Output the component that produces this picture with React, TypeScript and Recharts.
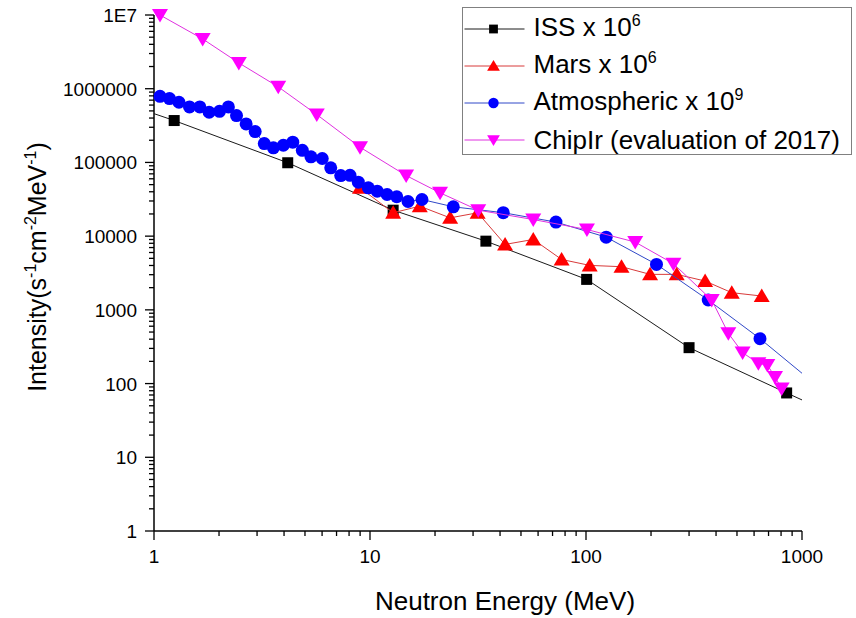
import React from "react";
import { ScatterChart, Scatter, XAxis, YAxis, Legend } from "recharts";

const FONT = "'Liberation Sans', Arial, sans-serif";

// ISS spectrum (x 10^6); first and last points only carry the line
const issEnergy = [1, 1.24, 4.16, 12.8, 34.4, 100.7, 300, 849, 1000];
const issIntensity = [459000, 370000, 99000, 22500, 8550, 2590, 307, 74.6, 60];
const issBare = [0, 8];

// Mars surface spectrum (x 10^6)
const marsEnergy = [8.99, 12.8, 17.0, 23.5, 31.5, 42.2, 57.0, 77.1, 104, 146, 198, 263, 356, 473, 651];
const marsIntensity = [45300, 20750, 25500, 17700, 20750, 7720, 9020, 4830, 4010, 3850, 3030, 3030, 2460, 1710, 1540];

// atmospheric spectrum (x 10^9); last point only carries the line
const atmEnergy = [
  1.066, 1.18, 1.305, 1.46, 1.63, 1.8, 2.01, 2.21, 2.41, 2.67, 2.94, 3.24, 3.57, 3.97, 4.39, 4.86, 5.33, 6.01,
  6.58, 7.32, 8.08, 8.83, 9.82, 10.8, 12.0, 13.3, 15.0, 17.4, 24.3, 41.4, 72.6, 124, 212, 368, 639, 1000,
];
const atmIntensity = [
  789000, 735000, 655000, 566000, 566000, 479000, 494000, 566000, 432000, 333000, 262000, 180000, 158000,
  171000, 188000, 146000, 119000, 113000, 84500, 66400, 66900, 53900, 45300, 40700, 36700, 34200, 29500,
  31400, 25000, 20800, 15500, 9690, 4140, 1360, 407, 138,
];
const atmBare = [35];

// ChipIr beam spectrum (2017 evaluation)
const chipEnergy = [1.066, 1.68, 2.47, 3.76, 5.67, 8.99, 14.7, 21.1, 31.7, 57.0, 101, 169, 254, 382, 456, 531, 628, 691, 750, 805];
const chipIntensity = [
  10000000, 4730000, 2240000, 1060000, 446000, 161000, 66400, 38700, 22500, 16800, 12300, 8300, 4230, 1360,
  481, 263, 188, 179, 123, 85.5,
];

const energyMajor = [1, 10, 100, 1000];
const energyLabels = ["1", "10", "100", "1000"];
const intensityMajor = [1, 10, 100, 1000, 10000, 100000, 1000000, 10000000];
const intensityLabels = ["1", "10", "100", "1000", "10000", "100000", "1000000", "1E7"];

const minorTicks = (major: number[]) =>
  major.slice(0, -1).flatMap((d) => [2, 3, 4, 5, 6, 7, 8, 9].map((m) => m * d));

const energyTicks = [...energyMajor, ...minorTicks(energyMajor)].sort((a, b) => a - b);
const intensityTicks = [...intensityMajor, ...minorTicks(intensityMajor)].sort((a, b) => a - b);

const toRows = (xs: number[], ys: number[], bare: number[] = []) =>
  xs.map((x, i) => ({ x, y: ys[i], bare: bare.includes(i) }));

type Marker = "square" | "up" | "circle" | "down";

const series = [
  { key: "iss", name: "ISS x 10", exp: "6", marker: "square" as Marker, fill: "#000000", line: "#1a1a1a", data: toRows(issEnergy, issIntensity, issBare) },
  { key: "mars", name: "Mars x 10", exp: "6", marker: "up" as Marker, fill: "#ff0000", line: "#d83a3a", data: toRows(marsEnergy, marsIntensity) },
  { key: "atm", name: "Atmospheric x 10", exp: "9", marker: "circle" as Marker, fill: "#0000ff", line: "#3048c8", data: toRows(atmEnergy, atmIntensity, atmBare) },
  { key: "chip", name: "ChipIr (evaluation of 2017)", exp: "", marker: "down" as Marker, fill: "#ff00ff", line: "#e030e0", data: toRows(chipEnergy, chipIntensity) },
];

const drawMarker = (marker: Marker, cx: number, cy: number, fill: string, s = 1) => {
  if (marker === "square") {
    const h = 5.5 * s;
    return <rect x={cx - h} y={cy - h} width={2 * h} height={2 * h} fill={fill} />;
  }
  if (marker === "circle") return <circle cx={cx} cy={cy} r={6.5 * s} fill={fill} />;
  if (marker === "up") {
    return <polygon points={`${cx},${cy - 7.5 * s} ${cx - 8 * s},${cy + 6 * s} ${cx + 8 * s},${cy + 6 * s}`} fill={fill} />;
  }
  return <polygon points={`${cx - 8 * s},${cy - 6 * s} ${cx + 8 * s},${cy - 6 * s} ${cx},${cy + 7.5 * s}`} fill={fill} />;
};

const makeShape = (marker: Marker, fill: string) => (props: any) => {
  const { cx, cy, payload } = props;
  if (payload?.bare || cx == null || cy == null) return <g />;
  return drawMarker(marker, cx, cy, fill);
};

const EnergyTick = (props: any) => {
  const { x, y, payload } = props;
  const i = energyMajor.indexOf(payload.value);
  return (
    <g>
      <line x1={x} x2={x} y1={y} y2={y + (i >= 0 ? 9 : 5)} stroke="#000" strokeWidth={1.3} />
      {i >= 0 && (
        <text x={x} y={y + 32} textAnchor="middle" fontSize={19} fontFamily={FONT} fill="#000">
          {energyLabels[i]}
        </text>
      )}
    </g>
  );
};

const IntensityTick = (props: any) => {
  const { x, y, payload } = props;
  const i = intensityMajor.indexOf(payload.value);
  return (
    <g>
      <line x1={x - (i >= 0 ? 9 : 5)} x2={x} y1={y} y2={y} stroke="#000" strokeWidth={1.3} />
      {i >= 0 && (
        <text x={x - 17} y={y + 7} textAnchor="end" fontSize={19} fontFamily={FONT} fill="#000">
          {intensityLabels[i]}
        </text>
      )}
    </g>
  );
};

const EnergyTitle = (props: any) => {
  const { x, y, width } = props.viewBox;
  return (
    <text x={x + width / 2 + 27} y={y + 79} textAnchor="middle" fontSize={26} fontFamily={FONT} fill="#000">
      Neutron Energy (MeV)
    </text>
  );
};

const IntensityTitle = (props: any) => {
  const { y, height } = props.viewBox;
  const cx = 46;
  const cy = y + height / 2 - 6;
  return (
    <text
      x={cx}
      y={cy}
      transform={`rotate(-90 ${cx} ${cy})`}
      textAnchor="middle"
      fontSize={25}
      fontFamily={FONT}
      fill="#000"
    >
      Intensity(s
      <tspan dy={-10} fontSize={16}>-1</tspan>
      <tspan dy={10}>cm</tspan>
      <tspan dy={-10} fontSize={16}>-2</tspan>
      <tspan dy={10}>MeV</tspan>
      <tspan dy={-10} fontSize={16}>-1</tspan>
      <tspan dy={10}>)</tspan>
    </text>
  );
};

const LegendBox = () => (
  <div
    style={{
      width: 390,
      height: 148,
      boxSizing: "border-box",
      border: "1.5px solid #808080",
      background: "#fff",
      paddingTop: 2,
      fontFamily: FONT,
      color: "#000",
    }}
  >
    {series.map((s) => (
      <div key={s.key} style={{ height: 37, display: "flex", alignItems: "center" }}>
        <svg width={64} height={20} style={{ flex: "none" }}>
          <line x1={1.5} x2={61.5} y1={10} y2={10} stroke={s.line} strokeWidth={1} />
          {drawMarker(s.marker, 30.5, 10, s.fill, 0.8)}
        </svg>
        <span style={{ marginLeft: 6.5, fontSize: 26, lineHeight: "26px", whiteSpace: "nowrap" }}>
          {s.name}
          {s.exp && (
            <span style={{ fontSize: 16, position: "relative", top: -10 }}>{s.exp}</span>
          )}
        </span>
      </div>
    ))}
  </div>
);

export default function App() {
  return (
    <div style={{ position: "absolute", left: 0, top: 0, width: 856, height: 618, background: "#fff" }}>
      <ScatterChart width={856} height={618} margin={{ top: 15, right: 54, bottom: 0, left: 0 }}>
        <XAxis
          type="number"
          dataKey="x"
          scale="log"
          domain={[1, 1000]}
          ticks={energyTicks}
          interval={0}
          height={87}
          tickLine={false}
          tickSize={0}
          tickMargin={0}
          tick={EnergyTick}
          axisLine={{ stroke: "#000", strokeWidth: 1.5 }}
          label={{ content: EnergyTitle }}
        />
        <YAxis
          type="number"
          dataKey="y"
          scale="log"
          domain={[1, 10000000]}
          ticks={intensityTicks}
          interval={0}
          width={154}
          tickLine={false}
          tickSize={0}
          tickMargin={0}
          tick={IntensityTick}
          axisLine={{ stroke: "#000", strokeWidth: 1.5 }}
          label={{ content: IntensityTitle }}
        />
        {series.map((s) => (
          <Scatter
            key={s.key}
            name={s.name}
            data={s.data}
            line={{ stroke: s.line, strokeWidth: 1 }}
            lineType="joint"
            shape={makeShape(s.marker, s.fill)}
            isAnimationActive={false}
          />
        ))}
        <Legend
          layout="vertical"
          align="center"
          verticalAlign="middle"
          wrapperStyle={{ left: 462, top: 7, width: 390, height: 148 }}
          content={LegendBox}
        />
      </ScatterChart>
    </div>
  );
}
